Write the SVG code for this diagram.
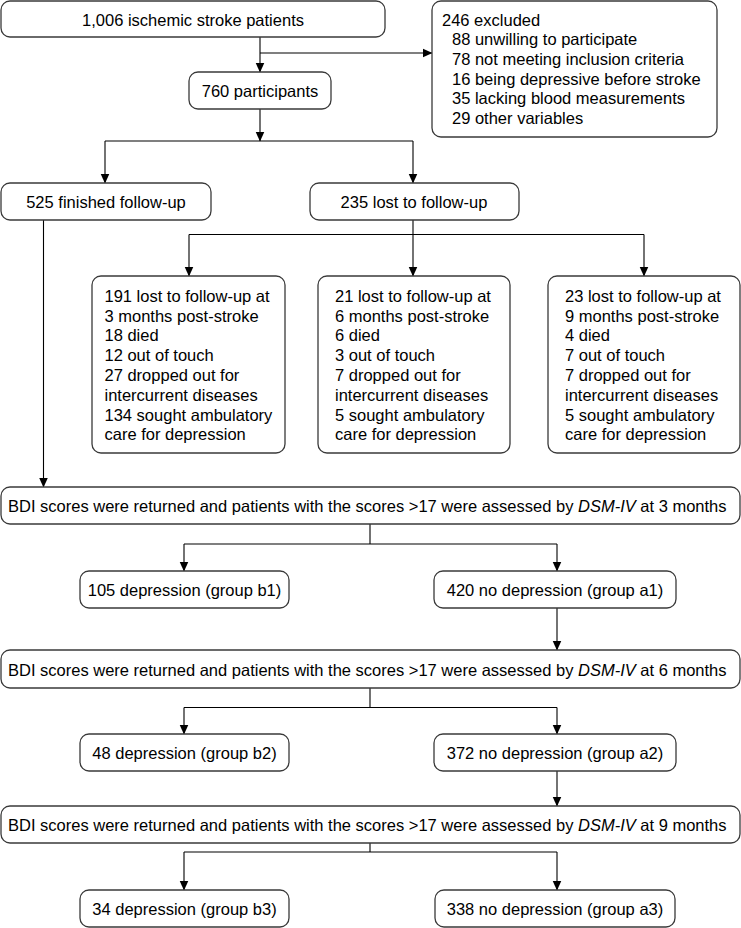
<svg xmlns="http://www.w3.org/2000/svg" width="741" height="928" viewBox="0 0 741 928">
<style>
.box{fill:#fff;stroke:#3a3a3a;stroke-width:1.3}
.t{font-family:"Liberation Sans",Arial,sans-serif;font-size:16.5px;fill:#000}
.c{text-anchor:middle}
.ln{fill:none;stroke:#000;stroke-width:1.1}
.ar{marker-end:url(#ah)}
</style>
<defs>
<marker id="ah" markerUnits="userSpaceOnUse" markerWidth="10" markerHeight="10" refX="9.5" refY="4.5" orient="auto" viewBox="0 0 10 9">
<path d="M0,0 L10,4.5 L0,9 z" fill="#000"/>
</marker>
</defs>
<rect width="741" height="928" fill="#fff"/>
<g id="connectors">
<path class="ln ar" d="M260,37 V72"/>
<path class="ln ar" d="M260,53 H432"/>
<path class="ln ar" d="M260,109 V141"/>
<path class="ln" d="M105,141 H413"/>
<path class="ln ar" d="M105,141 V183"/>
<path class="ln ar" d="M413,141 V183"/>
<path class="ln ar" d="M413,220 V276"/>
<path class="ln" d="M189,234.5 H644"/>
<path class="ln ar" d="M189,234.5 V276"/>
<path class="ln ar" d="M644,234.5 V276"/>
<path class="ln ar" d="M43.5,220 V487"/>
<path class="ln" d="M370,524 V544 M184,544 H557"/>
<path class="ln ar" d="M184,544 V571"/>
<path class="ln ar" d="M557,544 V571"/>
<path class="ln ar" d="M557,608 V650"/>
<path class="ln" d="M370,688 V707.5 M184,707.5 H557"/>
<path class="ln ar" d="M184,707.5 V734"/>
<path class="ln ar" d="M557,707.5 V734"/>
<path class="ln ar" d="M557,771 V806"/>
<path class="ln" d="M370,843 V852 M184,852 H557"/>
<path class="ln ar" d="M184,852 V890"/>
<path class="ln ar" d="M557,852 V890"/>
</g>
<g id="n-total">
<rect class="box" x="1" y="1" width="384" height="36" rx="9"/>
<text class="t c" x="193" y="25.5">1,006 ischemic stroke patients</text>
</g>
<g id="n-excluded">
<rect class="box" x="432" y="1" width="285" height="136" rx="9"/>
<text class="t" x="442" y="25.5">246 excluded</text>
<text class="t" x="452" y="45.2">88 unwilling to participate</text>
<text class="t" x="452" y="64.9">78 not meeting inclusion criteria</text>
<text class="t" x="452" y="84.6">16 being depressive before stroke</text>
<text class="t" x="452" y="104.3">35 lacking blood measurements</text>
<text class="t" x="452" y="124">29 other variables</text>
</g>
<g id="n-participants">
<rect class="box" x="189" y="72" width="142" height="37" rx="9"/>
<text class="t c" x="260" y="96.5">760 participants</text>
</g>
<g id="n-finished">
<rect class="box" x="1" y="183" width="210" height="37" rx="9"/>
<text class="t c" x="106" y="207.5">525 finished follow-up</text>
</g>
<g id="n-lost">
<rect class="box" x="310" y="183" width="209" height="37" rx="9"/>
<text class="t c" x="414" y="207.5">235 lost to follow-up</text>
</g>
<g id="n-lost3">
<rect class="box" x="92" y="276" width="193" height="177" rx="9"/>
<text class="t" x="104.5" y="301.7">191 lost to follow-up at</text>
<text class="t" x="104.5" y="321.5">3 months post-stroke</text>
<text class="t" x="104.5" y="341.3">18 died</text>
<text class="t" x="104.5" y="361.1">12 out of touch</text>
<text class="t" x="104.5" y="380.9">27 dropped out for</text>
<text class="t" x="104.5" y="400.7">intercurrent diseases</text>
<text class="t" x="104.5" y="420.5">134 sought ambulatory</text>
<text class="t" x="104.5" y="440.3">care for depression</text>
</g>
<g id="n-lost6">
<rect class="box" x="318" y="276" width="192" height="177" rx="9"/>
<text class="t" x="335" y="301.7">21 lost to follow-up at</text>
<text class="t" x="335" y="321.5">6 months post-stroke</text>
<text class="t" x="335" y="341.3">6 died</text>
<text class="t" x="335" y="361.1">3 out of touch</text>
<text class="t" x="335" y="380.9">7 dropped out for</text>
<text class="t" x="335" y="400.7">intercurrent diseases</text>
<text class="t" x="335" y="420.5">5 sought ambulatory</text>
<text class="t" x="335" y="440.3">care for depression</text>
</g>
<g id="n-lost9">
<rect class="box" x="548" y="276" width="192" height="177" rx="9"/>
<text class="t" x="565" y="301.7">23 lost to follow-up at</text>
<text class="t" x="565" y="321.5">9 months post-stroke</text>
<text class="t" x="565" y="341.3">4 died</text>
<text class="t" x="565" y="361.1">7 out of touch</text>
<text class="t" x="565" y="380.9">7 dropped out for</text>
<text class="t" x="565" y="400.7">intercurrent diseases</text>
<text class="t" x="565" y="420.5">5 sought ambulatory</text>
<text class="t" x="565" y="440.3">care for depression</text>
</g>
<g id="n-bdi3">
<rect class="box" x="1" y="487" width="739" height="37" rx="9"/>
<text class="t" x="8" y="512">BDI scores were returned and patients with the scores &gt;17 were assessed by <tspan font-style="italic">DSM-IV</tspan> at 3 months</text>
</g>
<g id="n-b1">
<rect class="box" x="80" y="571" width="209" height="37" rx="9"/>
<text class="t c" x="184.5" y="596">105 depression (group b1)</text>
</g>
<g id="n-a1">
<rect class="box" x="434" y="571" width="242" height="37" rx="9"/>
<text class="t c" x="555" y="596">420 no depression (group a1)</text>
</g>
<g id="n-bdi6">
<rect class="box" x="1" y="650" width="739" height="38" rx="9"/>
<text class="t" x="8" y="675.5">BDI scores were returned and patients with the scores &gt;17 were assessed by <tspan font-style="italic">DSM-IV</tspan> at 6 months</text>
</g>
<g id="n-b2">
<rect class="box" x="80" y="734" width="209" height="37" rx="9"/>
<text class="t c" x="184.5" y="759">48 depression (group b2)</text>
</g>
<g id="n-a2">
<rect class="box" x="434" y="734" width="242" height="37" rx="9"/>
<text class="t c" x="555" y="759">372 no depression (group a2)</text>
</g>
<g id="n-bdi9">
<rect class="box" x="1" y="806" width="739" height="37" rx="9"/>
<text class="t" x="8" y="831">BDI scores were returned and patients with the scores &gt;17 were assessed by <tspan font-style="italic">DSM-IV</tspan> at 9 months</text>
</g>
<g id="n-b3">
<rect class="box" x="80" y="890" width="209" height="37" rx="9"/>
<text class="t c" x="184.5" y="915">34 depression (group b3)</text>
</g>
<g id="n-a3">
<rect class="box" x="435" y="890" width="240" height="37" rx="9"/>
<text class="t c" x="555" y="915">338 no depression (group a3)</text>
</g>
</svg>
